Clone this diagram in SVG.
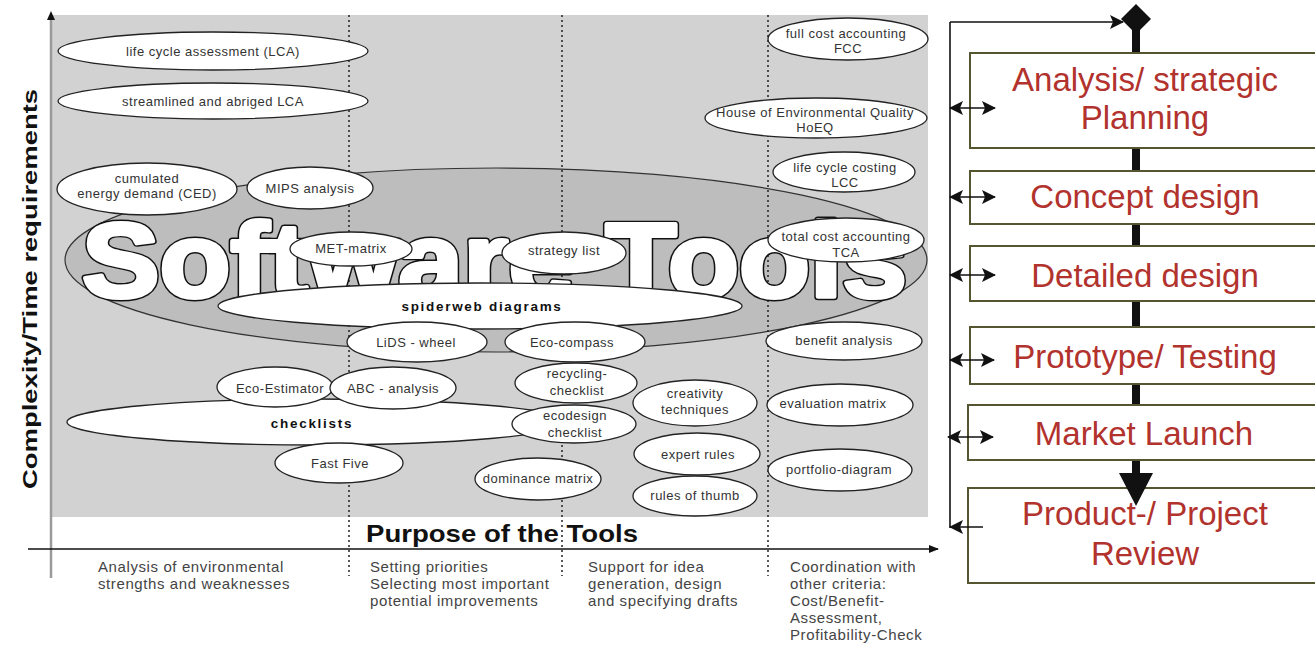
<svg xmlns="http://www.w3.org/2000/svg" xmlns:xlink="http://www.w3.org/1999/xlink" width="1315" height="647" viewBox="0 0 1315 647">
<defs>
<marker id="ah" viewBox="0 0 14 14" refX="13" refY="7" markerWidth="14" markerHeight="14" markerUnits="userSpaceOnUse" orient="auto-start-reverse"><path d="M0,0 L14,7 L0,14 L3,7 z" fill="#111"/></marker>
<marker id="axh" viewBox="0 0 10 8" refX="9" refY="4" markerWidth="10" markerHeight="8" markerUnits="userSpaceOnUse" orient="auto"><path d="M0,0 L10,4 L0,8 z" fill="#111"/></marker>
<text id="sw" x="82" y="297" textLength="825" lengthAdjust="spacingAndGlyphs" font-family="Liberation Sans, Arial, sans-serif" font-weight="bold" font-size="105">Software Tools</text>
</defs>
<style>
.el{fill:#fff;stroke:#222;stroke-width:1.3}
.lb{font-family:"Liberation Sans",Arial,sans-serif;font-size:13px;fill:#333;text-anchor:middle;letter-spacing:0.5px}
.bl{font-family:"Liberation Sans",Arial,sans-serif;font-size:13.5px;font-weight:bold;fill:#111;text-anchor:middle;letter-spacing:1.7px}
.dot{stroke:#222;stroke-width:1.5;stroke-dasharray:2 3;fill:none}
.ax{font-family:"Liberation Sans",Arial,sans-serif;font-size:15px;fill:#444;letter-spacing:0.6px}
.box{fill:#fff;stroke:#55552f;stroke-width:2}
.bt{font-family:"Liberation Sans",Arial,sans-serif;font-size:33px;fill:#b2322d;text-anchor:middle}
.thin{stroke:#111;stroke-width:1.6;fill:none}
.spine{stroke:#111;stroke-width:8}
</style>

<g id="chart-bg">
<rect x="52" y="15" width="876" height="502" fill="#d2d2d2"/>
<ellipse cx="496" cy="260" rx="431" ry="92" fill="#bdbdbd" stroke="#333" stroke-width="1.2"/>
<line class="dot" x1="349" y1="15" x2="349" y2="576"/>
<line class="dot" x1="562" y1="15" x2="562" y2="576"/>
<line class="dot" x1="768" y1="15" x2="768" y2="576"/>
</g>
<g id="software-tools">
<use xlink:href="#sw" href="#sw" fill="#111" stroke="#111" stroke-width="7" stroke-linejoin="round"/>
<use xlink:href="#sw" href="#sw" fill="#fff" stroke="#fff" stroke-width="4.2" stroke-linejoin="round"/>
</g>

<g id="axes">
<line x1="51" y1="578" x2="51" y2="16" stroke="#9a9a9a" stroke-width="2.5"/>
<path d="M47,20 L51,11 L55,20 z" fill="#111"/>
<line x1="28" y1="549" x2="938" y2="549" stroke="#111" stroke-width="1.3" marker-end="url(#axh)"/>
<text transform="translate(37,289) rotate(-90)" text-anchor="middle" textLength="400" lengthAdjust="spacingAndGlyphs" font-family="Liberation Sans, Arial, sans-serif" font-weight="bold" font-size="21" fill="#111">Complexity/Time requirements</text>
<text x="366" y="542" textLength="272" lengthAdjust="spacingAndGlyphs" font-family="Liberation Sans, Arial, sans-serif" font-weight="bold" font-size="24" fill="#111">Purpose of the Tools</text>
<text class="ax" x="98"><tspan x="98" y="572">Analysis of environmental</tspan><tspan x="98" y="589">strengths and weaknesses</tspan></text>
<text class="ax" x="370"><tspan x="370" y="572">Setting priorities</tspan><tspan x="370" y="589">Selecting most important</tspan><tspan x="370" y="606">potential improvements</tspan></text>
<text class="ax" x="588"><tspan x="588" y="572">Support for idea</tspan><tspan x="588" y="589">generation, design</tspan><tspan x="588" y="606">and specifying drafts</tspan></text>
<text class="ax" x="790"><tspan x="790" y="572">Coordination with</tspan><tspan x="790" y="589">other criteria:</tspan><tspan x="790" y="606">Cost/Benefit-</tspan><tspan x="790" y="623">Assessment,</tspan><tspan x="790" y="640">Profitability-Check</tspan></text>
</g>

<g id="lca"><ellipse class="el" cx="213" cy="51" rx="155" ry="19"/><text class="lb" x="213" y="56">life cycle assessment (LCA)</text></g>
<g id="slca"><ellipse class="el" cx="213" cy="101" rx="155" ry="18"/><text class="lb" x="213" y="106">streamlined and abriged LCA</text></g>
<g id="ced"><ellipse class="el" cx="147" cy="189" rx="90" ry="26"/><text class="lb" x="147" y="183">cumulated</text><text class="lb" x="147" y="198">energy demand (CED)</text></g>
<g id="mips"><ellipse class="el" cx="310" cy="188" rx="63" ry="21"/><text class="lb" x="310" y="193">MIPS analysis</text></g>
<g id="fcc"><ellipse class="el" cx="848" cy="39" rx="80" ry="21"/><text class="lb" x="846" y="38">full cost accounting</text><text class="lb" x="848" y="53">FCC</text></g>
<g id="hoeq"><ellipse class="el" cx="816" cy="118" rx="111" ry="20"/><text class="lb" x="815" y="117">House of Environmental Quality</text><text class="lb" x="815" y="132">HoEQ</text></g>
<g id="lcc"><ellipse class="el" cx="844" cy="172" rx="71" ry="20"/><text class="lb" x="845" y="172">life cycle costing</text><text class="lb" x="845" y="187">LCC</text></g>
<g id="met"><ellipse class="el" cx="351" cy="249" rx="61" ry="17"/><text class="lb" x="351" y="253">MET-matrix</text></g>
<g id="strategy"><ellipse class="el" cx="564" cy="253" rx="62" ry="21"/><text class="lb" x="564" y="255">strategy list</text></g>
<g id="tca"><ellipse class="el" cx="846" cy="240" rx="78" ry="22"/><text class="lb" x="846" y="241">total cost accounting</text><text class="lb" x="846" y="257">TCA</text></g>
<g id="spider"><ellipse class="el" cx="480" cy="306" rx="262" ry="23"/><text class="bl" x="482" y="311">spiderweb diagrams</text></g>
<g id="lids"><ellipse class="el" cx="417" cy="342" rx="70" ry="20"/><text class="lb" x="416" y="347">LiDS - wheel</text></g>
<g id="ecocompass"><ellipse class="el" cx="575" cy="342" rx="70" ry="20"/><text class="lb" x="572" y="347">Eco-compass</text></g>
<g id="benefit"><ellipse class="el" cx="844" cy="341" rx="78" ry="19"/><text class="lb" x="844" y="345">benefit analysis</text></g>
<g id="checklists"><ellipse class="el" cx="317" cy="422" rx="250" ry="23"/><text class="bl" x="312" y="428">checklists</text></g>
<g id="ecoestimator"><ellipse class="el" cx="275" cy="387" rx="58" ry="20"/><text class="lb" x="280" y="393">Eco-Estimator</text></g>
<g id="abc"><ellipse class="el" cx="393" cy="388" rx="63" ry="21"/><text class="lb" x="393" y="393">ABC - analysis</text></g>
<g id="fastfive"><ellipse class="el" cx="339" cy="463" rx="64" ry="20"/><text class="lb" x="340" y="468">Fast Five</text></g>
<g id="recycling"><ellipse class="el" cx="576" cy="383" rx="61" ry="20"/><text class="lb" x="577" y="378">recycling-</text><text class="lb" x="577" y="395">checklist</text></g>
<g id="ecodesign"><ellipse class="el" cx="574" cy="424" rx="62" ry="19"/><text class="lb" x="575" y="420">ecodesign</text><text class="lb" x="575" y="437">checklist</text></g>
<g id="dominance"><ellipse class="el" cx="538" cy="479" rx="63" ry="21"/><text class="lb" x="538" y="483">dominance matrix</text></g>
<g id="creativity"><ellipse class="el" cx="695" cy="403" rx="62" ry="23"/><text class="lb" x="695" y="398">creativity</text><text class="lb" x="695" y="414">techniques</text></g>
<g id="expert"><ellipse class="el" cx="697" cy="454" rx="63" ry="21"/><text class="lb" x="698" y="459">expert rules</text></g>
<g id="thumb"><ellipse class="el" cx="695" cy="496" rx="62" ry="20"/><text class="lb" x="695" y="500">rules of thumb</text></g>
<g id="evaluation"><ellipse class="el" cx="840" cy="405" rx="73" ry="21"/><text class="lb" x="833" y="408">evaluation matrix</text></g>
<g id="portfolio"><ellipse class="el" cx="840" cy="470" rx="72" ry="21"/><text class="lb" x="839" y="474">portfolio-diagram</text></g>

<g id="box-analysis"><rect class="box" x="970" y="53" width="360" height="95"/><text class="bt" x="1145" y="91">Analysis/ strategic</text><text class="bt" x="1145" y="129">Planning</text></g>
<g id="box-concept"><rect class="box" x="970" y="171" width="360" height="53"/><text class="bt" x="1145" y="208">Concept design</text></g>
<g id="box-detailed"><rect class="box" x="970" y="246" width="360" height="55"/><text class="bt" x="1145" y="287">Detailed design</text></g>
<g id="box-prototype"><rect class="box" x="970" y="327" width="360" height="57"/><text class="bt" x="1145" y="368">Prototype/ Testing</text></g>
<g id="box-market"><rect class="box" x="968" y="405" width="360" height="55"/><text class="bt" x="1144" y="445">Market Launch</text></g>
<g id="box-review"><rect class="box" x="968" y="488" width="360" height="95"/><text class="bt" x="1145" y="525">Product-/ Project</text><text class="bt" x="1145" y="565">Review</text></g>

<g id="connectors">
<line class="spine" x1="1136" y1="30" x2="1136" y2="52"/>
<line class="spine" x1="1136" y1="149" x2="1136" y2="170"/>
<line class="spine" x1="1136" y1="225" x2="1136" y2="245"/>
<line class="spine" x1="1136" y1="302" x2="1136" y2="326"/>
<line class="spine" x1="1136" y1="385" x2="1136" y2="404"/>
<line class="spine" x1="1136" y1="461" x2="1136" y2="474"/>
<polygon points="1136,4 1151,19 1136,34 1121,19" fill="#111"/>
<polygon points="1119,473 1153,473 1136,506" fill="#111"/>
<line class="thin" x1="950" y1="22" x2="950" y2="528"/>
<line class="thin" x1="950" y1="22" x2="1123" y2="22" marker-end="url(#ah)"/>
<line class="thin" x1="950" y1="108" x2="995" y2="108" marker-start="url(#ah)" marker-end="url(#ah)"/>
<line class="thin" x1="950" y1="197" x2="995" y2="197" marker-start="url(#ah)" marker-end="url(#ah)"/>
<line class="thin" x1="950" y1="275" x2="995" y2="275" marker-start="url(#ah)" marker-end="url(#ah)"/>
<line class="thin" x1="950" y1="360" x2="994" y2="360" marker-start="url(#ah)" marker-end="url(#ah)"/>
<line class="thin" x1="948" y1="437" x2="993" y2="437" marker-start="url(#ah)" marker-end="url(#ah)"/>
<line class="thin" x1="983" y1="527" x2="950" y2="527" marker-end="url(#ah)"/>
</g>
</svg>
